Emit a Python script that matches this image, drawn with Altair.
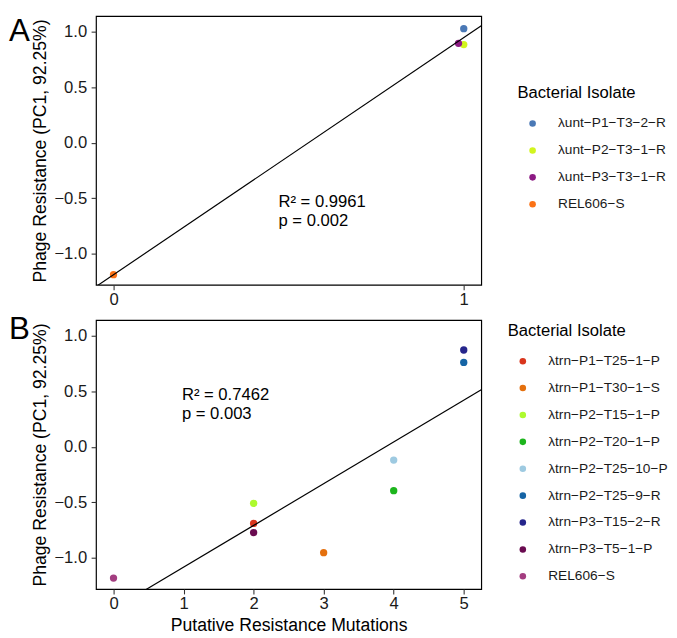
import altair as alt
import pandas as pd

FONT = "Liberation Sans"

# ---- Panel A data ----
a_isolates = ["λunt−P1−T3−2−R", "λunt−P2−T3−1−R", "λunt−P3−T3−1−R", "REL606−S"]
a_colors = ["#4a78b5", "#d2f51e", "#8c1a83", "#fb7216"]
a_mutations = [1, 1, 0.985, 0]
a_resistance = [1.026, 0.883, 0.894, -1.188]

# ---- Panel B data ----
b_isolates = ["λtrn−P1−T25−1−P", "λtrn−P1−T30−1−S", "λtrn−P2−T15−1−P",
              "λtrn−P2−T20−1−P", "λtrn−P2−T25−10−P", "λtrn−P2−T25−9−R",
              "λtrn−P3−T15−2−R", "λtrn−P3−T5−1−P", "REL606−S"]
b_colors = ["#d9351c", "#e4700e", "#adfa2e", "#1db51d", "#9ecae1",
            "#1564a5", "#26268c", "#6a0b50", "#a33d80"]
b_mutations = [2, 3, 2, 4, 4, 5, 5, 2, 0]
b_resistance = [-0.69, -0.953, -0.509, -0.395, -0.12, 0.759, 0.871, -0.772, -1.182]

y_domain = [-1.28, 1.14]
y_ticks = [-1.0, -0.5, 0.0, 0.5, 1.0]
a_xdomain = [-0.05, 1.05]
a_xticks = [0, 1]
b_xdomain = [-0.25, 5.25]
b_xticks = [0, 1, 2, 3, 4, 5]

a_note = "R² = 0.9961\np = 0.002"
b_note = "R² = 0.7462\np = 0.003"


def panel(isolates, colors, xs, ys, xdom, xticks, note, note_x, note_y,
          letter, letter_y, leg_x, leg_y, xtitle):
    df = pd.DataFrame({"isolate": isolates, "x": xs, "y": ys})
    x_axis = alt.Axis(values=xticks, format="d", labelPadding=2,
                      title=xtitle if xtitle else None)
    x = alt.X("x:Q", scale=alt.Scale(domain=xdom, nice=False, zero=False), axis=x_axis)
    y = alt.Y("y:Q", scale=alt.Scale(domain=y_domain, nice=False, zero=False),
              axis=alt.Axis(values=y_ticks, format=".1f", labelPadding=4.5,
                            title="Phage Resistance (PC1, 92.25%)"))
    pts = alt.Chart(df).mark_circle(size=56, opacity=1).encode(
        x=x, y=y,
        color=alt.Color("isolate:N", scale=alt.Scale(domain=isolates, range=colors),
                        legend=alt.Legend(title="Bacterial Isolate", orient="none",
                                          legendX=leg_x, legendY=leg_y)),
    )
    line = alt.Chart(df).transform_regression(
        "x", "y", extent=xdom
    ).mark_line(color="black", strokeWidth=1.2, clip=True).encode(x="x:Q", y="y:Q")
    ann = alt.Chart(pd.DataFrame({"x": [note_x], "y": [note_y], "t": [note]})).mark_text(
        align="left", baseline="alphabetic", fontSize=17, lineBreak="\n",
        lineHeight=19.5, font=FONT, color="black"
    ).encode(x="x:Q", y="y:Q", text="t:N")
    lab = alt.Chart(pd.DataFrame({"t": [letter]})).mark_text(
        align="left", baseline="alphabetic", fontSize=32, font=FONT, color="black"
    ).encode(x=alt.value(-89), y=alt.value(letter_y), text="t:N")
    return alt.layer(pts, line, ann, lab).properties(width=394, height=275)


pa = panel(a_isolates, a_colors, a_mutations, a_resistance, a_xdomain, a_xticks,
           a_note, 0.471, -0.579, "A", 26, 431, 71, None)
pb = panel(b_isolates, b_colors, b_mutations, b_resistance, b_xdomain, b_xticks,
           b_note, 0.976, 0.421, "B", 19, 421, 3, "Putative Resistance Mutations")

chart = alt.vconcat(pa, pb, spacing=36, bounds="flush").resolve_scale(
    color="independent", x="independent", y="independent"
).resolve_legend(color="independent").properties(
    padding={"left": 0, "top": 0, "right": 0, "bottom": 0}
).configure_view(
    stroke="black", strokeWidth=1.2
).configure_axis(
    labelFont=FONT, titleFont=FONT, labelFontSize=17, titleFontSize=18,
    titleFontWeight="normal", labelColor="#1a1a1a", titleColor="black",
    tickColor="#333333", tickSize=5, tickWidth=1.1, grid=False, domain=False,
    titlePadding=5
).configure_legend(
    titleFont=FONT, labelFont=FONT, titleFontSize=17, titleFontWeight="normal",
    labelFontSize=14, titleColor="black", labelColor="#1a1a1a",
    titlePadding=15, rowPadding=13.5, symbolOffset=8.5, labelOffset=19,
    symbolSize=45, symbolType="circle", symbolStrokeWidth=0
)

chart.save("out.html", embed_options={"renderer": "svg", "actions": False})
